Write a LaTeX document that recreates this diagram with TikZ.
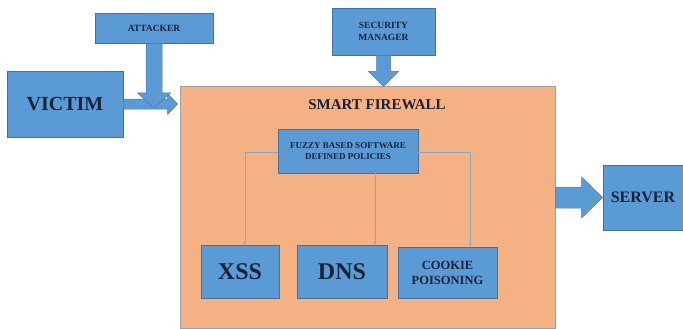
\documentclass[tikz,border=0pt]{standalone}
\usepackage{fontspec}
\setmainfont{Liberation Serif}
\usetikzlibrary{arrows.meta,calc}
\definecolor{boxblue}{HTML}{5B9BD5}
\definecolor{boxedge}{HTML}{41719C}
\definecolor{fworange}{HTML}{F4B183}
\definecolor{fwedge}{HTML}{A0A0A0}
\definecolor{txt}{HTML}{1A2238}
\definecolor{thinline}{HTML}{8FA7BE}
\tikzset{
  bluebox/.style={draw=boxedge, fill=boxblue, line width=0.8pt, inner sep=0pt, align=center, text=txt, font=\bfseries},
  fwbox/.style={draw=fwedge, fill=fworange, line width=1pt, inner sep=0pt},
  blockarrow/.style={draw=boxedge!70!boxblue, fill=boxblue, line width=0.5pt, line join=miter},
  thinarrow/.style={draw=thinline, line width=0.8pt, -{Stealth[length=3pt,width=3pt]}}
}
% horizontal right-pointing block arrow: #1 start, #2 tip, #3 shaft half, #4 head half, #5 head length
\newcommand\blkarrowR[5]{%
  \draw[blockarrow] ($(#1)+(0,-#3)$) -- ($(#2)+(-#5,-#3)$) -- ($(#2)+(-#5,-#4)$) -- (#2)
    -- ($(#2)+(-#5,#4)$) -- ($(#2)+(-#5,#3)$) -- ($(#1)+(0,#3)$) -- cycle;}
% vertical down-pointing block arrow (y grows downward)
\newcommand\blkarrowD[5]{%
  \draw[blockarrow] ($(#1)+(-#3,0)$) -- ($(#2)+(-#3,-#5)$) -- ($(#2)+(-#4,-#5)$) -- (#2)
    -- ($(#2)+(#4,-#5)$) -- ($(#2)+(#3,-#5)$) -- ($(#1)+(#3,0)$) -- cycle;}
\begin{document}
\begin{tikzpicture}[x=1pt,y=-1pt]
\useasboundingbox (0,0) rectangle (683,329);
\node[fwbox, minimum width=375pt, minimum height=241pt] (fw) at (367.5,207.5) {};
\node[font=\bfseries\fontsize{15}{17}\selectfont, text=txt] (fwtitle) at (377,105) {SMART FIREWALL};
\node[bluebox, minimum width=118pt, minimum height=30pt, font=\bfseries\fontsize{9.5}{11}\selectfont] (attacker) at (154,28) {ATTACKER};
\node[bluebox, minimum width=116pt, minimum height=66pt, font=\bfseries\fontsize{20}{22}\selectfont] (victim) at (65,104) {VICTIM};
\node[bluebox, minimum width=103pt, minimum height=47pt, font=\bfseries\fontsize{9.5}{11.5}\selectfont] (sm) at (383.5,31.5) {SECURITY\\MANAGER};
\node[bluebox, minimum width=140pt, minimum height=44pt, font=\bfseries\fontsize{9}{11}\selectfont] (fuzzy) at (348,151) {FUZZY BASED SOFTWARE\\DEFINED POLICIES};
\node[bluebox, minimum width=78pt, minimum height=53pt, font=\bfseries\fontsize{24}{26}\selectfont] (xss) at (240,271.5) {XSS};
\node[bluebox, minimum width=90pt, minimum height=53pt, font=\bfseries\fontsize{24}{26}\selectfont] (dns) at (342,271.5) {DNS};
\node[bluebox, minimum width=99pt, minimum height=51pt, font=\bfseries\fontsize{12.5}{15}\selectfont] (cookie) at (447.5,272.5) {COOKIE\\POISONING};
\node[bluebox, minimum width=80pt, minimum height=65pt, font=\bfseries\fontsize{16}{18}\selectfont] (server) at (643,197.5) {SERVER};
% block arrow end points
\coordinate (vtip) at ([xshift=-2pt]fw.west |- victim.east);
\coordinate (atip) at ([yshift=-4pt]attacker.south |- victim.east);
\coordinate (stip) at (sm.south |- fw.north);
\coordinate (sstart) at (fw.east |- server.west);
% block arrows
\blkarrowR{victim.east}{vtip}{5}{10.5}{10}
\blkarrowD{attacker.south}{atip}{8}{16.5}{15}
\blkarrowD{sm.south}{stip}{7}{15}{15}
\blkarrowR{sstart}{server.west}{10.5}{20.5}{21}
% thin connectors
\draw[thinarrow] ([yshift=-1pt]fuzzy.west) -| ([xshift=5pt]xss.north);
\draw[thinarrow] ([xshift=27pt]fuzzy.south) -- ([xshift=27pt]fuzzy.south |- dns.north);
\draw[thinarrow] ([yshift=-1pt]fuzzy.east) -| ([xshift=22.5pt]cookie.north);
\end{tikzpicture}
\end{document}
